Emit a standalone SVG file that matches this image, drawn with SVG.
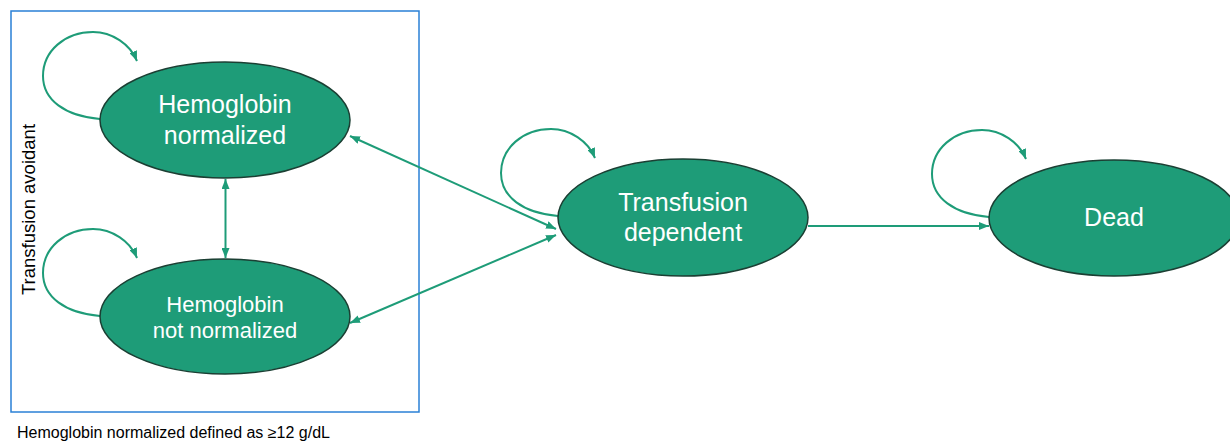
<svg xmlns="http://www.w3.org/2000/svg" width="1230" height="442" viewBox="0 0 1230 442">
<style>
.node{fill:#1e9c78;stroke:#1b3f33;stroke-width:1.5}
.lbl{fill:#ffffff;font-family:"Liberation Sans",Arial,sans-serif;text-anchor:middle}
.edge{fill:none;stroke:#1e9c78;stroke-width:2}
.txt{fill:#000000;font-family:"Liberation Sans",Arial,sans-serif}
</style>
<defs>
<marker id="ah" viewBox="0 0 10 8" refX="10" refY="4" markerWidth="10" markerHeight="8" markerUnits="userSpaceOnUse" orient="auto-start-reverse">
<path d="M0,0 L10,4 L0,8 z" fill="#1e9c78"/>
</marker>
</defs>
<rect width="1230" height="442" fill="#ffffff"/>
<g id="box">
<rect x="11" y="11" width="408" height="401" fill="none" stroke="#2a80d6" stroke-width="1.5"/>
<text class="txt" font-size="18.5" transform="translate(35,209.5) rotate(-90)" text-anchor="middle">Transfusion avoidant</text>
</g>
<g id="connectors">
<path class="edge" d="M100,119 C65,116 43,100 43,76 C43,51 65,32 93,32 C112,32 130,44 137,61" marker-end="url(#ah)"/>
<path class="edge" d="M100,316 C65,313 43,297 43,273 C43,248 65,229 93,229 C112,229 130,241 137,258" marker-end="url(#ah)"/>
<path class="edge" d="M558,216 C523,213 501,197 501,173 C501,148 523,129 551,129 C570,129 588,141 595,158" marker-end="url(#ah)"/>
<path class="edge" d="M989,217 C954,214 932,198 932,174 C932,149 954,130 982,130 C1001,130 1019,142 1026,159" marker-end="url(#ah)"/>
<path class="edge" d="M225.5,179 L225.5,258" marker-start="url(#ah)" marker-end="url(#ah)"/>
<path class="edge" d="M350,136 L556,229" marker-start="url(#ah)" marker-end="url(#ah)"/>
<path class="edge" d="M350,323 L556,235" marker-start="url(#ah)" marker-end="url(#ah)"/>
<path class="edge" d="M808,226 L989,226" marker-end="url(#ah)"/>
</g>
<g id="hb-normalized">
<ellipse class="node" cx="225" cy="120" rx="125" ry="58"/>
<text class="lbl" font-size="25" x="225" y="113">Hemoglobin</text>
<text class="lbl" font-size="25" x="225" y="144">normalized</text>
</g>
<g id="hb-not-normalized">
<ellipse class="node" cx="225" cy="316.5" rx="125" ry="57.5"/>
<text class="lbl" font-size="22" x="225" y="312">Hemoglobin</text>
<text class="lbl" font-size="22" x="225" y="338">not normalized</text>
</g>
<g id="transfusion-dependent">
<ellipse class="node" cx="683" cy="217.5" rx="125" ry="58.5"/>
<text class="lbl" font-size="25" x="683" y="211">Transfusion</text>
<text class="lbl" font-size="25" x="683" y="241">dependent</text>
</g>
<g id="dead">
<ellipse class="node" cx="1114" cy="218" rx="125" ry="58"/>
<text class="lbl" font-size="25" x="1114" y="226">Dead</text>
</g>
<text class="txt" font-size="16" x="17" y="438">Hemoglobin normalized defined as ≥12 g/dL</text>
</svg>
